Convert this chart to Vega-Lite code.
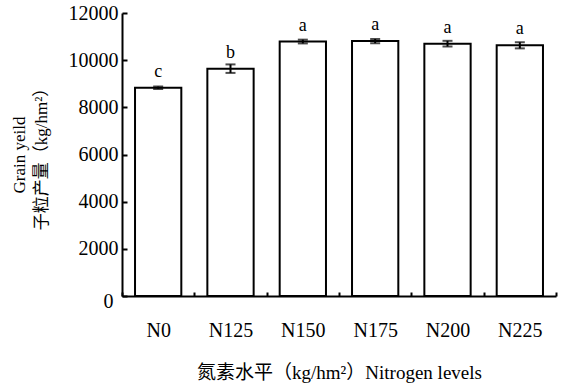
{
  "$schema": "https://vega.github.io/schema/vega-lite/v6.json",
  "width": 434,
  "height": 283,
  "autosize": {"type": "none"},
  "padding": {"left": 122, "top": 13, "right": 7, "bottom": 90},
  "background": "white",
  "config": {
    "view": {"stroke": null},
    "font": "Times New Roman, Noto Sans CJK SC",
    "axis": {"domainColor": "black", "tickColor": "black", "labelColor": "black", "titleColor": "black", "grid": false, "domainWidth": 2, "tickWidth": 2, "labelFont": "Times New Roman", "titleFont": "Times New Roman, Noto Sans CJK SC", "titleFontWeight": "normal"}
  },
  "data": {
    "values": [
      {"level": "N0", "yield": 8830, "se": 50, "sig": "c"},
      {"level": "N125", "yield": 9640, "se": 180, "sig": "b"},
      {"level": "N150", "yield": 10790, "se": 80, "sig": "a"},
      {"level": "N175", "yield": 10810, "se": 90, "sig": "a"},
      {"level": "N200", "yield": 10700, "se": 120, "sig": "a"},
      {"level": "N225", "yield": 10630, "se": 130, "sig": "a"}
    ]
  },
  "encoding": {
    "x": {
      "field": "level", "type": "nominal", "sort": null,
      "scale": {"paddingInner": 0, "paddingOuter": 0},
      "axis": {"labelAngle": 0, "labelFontSize": 20, "tickBand": "extent", "tickSize": -4, "labelPadding": 28,
        "title": "氮素水平（kg/hm²）Nitrogen levels", "titleFontSize": 19, "titlePadding": 23}
    },
    "y": {
      "field": "yield", "type": "quantitative",
      "scale": {"domain": [0, 12000], "nice": false},
      "title": ["Grain yeild", "子粒产量（kg/hm²）"],
      "axis": {"values": [0, 2000, 4000, 6000, 8000, 10000, 12000], "format": "d", "labelFontSize": 20, "tickSize": -5,
        "labelPadding": {"condition": {"test": "datum.value === 0", "value": 14}, "value": 9},
        "labelOffset": {"condition": {"test": "datum.value === 0", "value": 5}, "value": 0},
        "titleFontSize": 17, "titlePadding": 18, "titleLineHeight": 22}
    }
  },
  "layer": [
    {
      "mark": {"type": "bar", "fill": "white", "stroke": "black", "strokeWidth": 2, "width": {"band": 0.64}}
    },
    {
      "mark": {"type": "errorbar", "ticks": {"size": 10, "thickness": 2, "color": "black"}, "rule": {"strokeWidth": 2, "color": "black"}},
      "encoding": {
        "yError": {"field": "se"}
      }
    },
    {
      "mark": {"type": "text", "baseline": "alphabetic", "dy": -11, "fontSize": 18, "color": "black", "font": "Times New Roman"},
      "encoding": {
        "text": {"field": "sig"}
      }
    }
  ]
}
